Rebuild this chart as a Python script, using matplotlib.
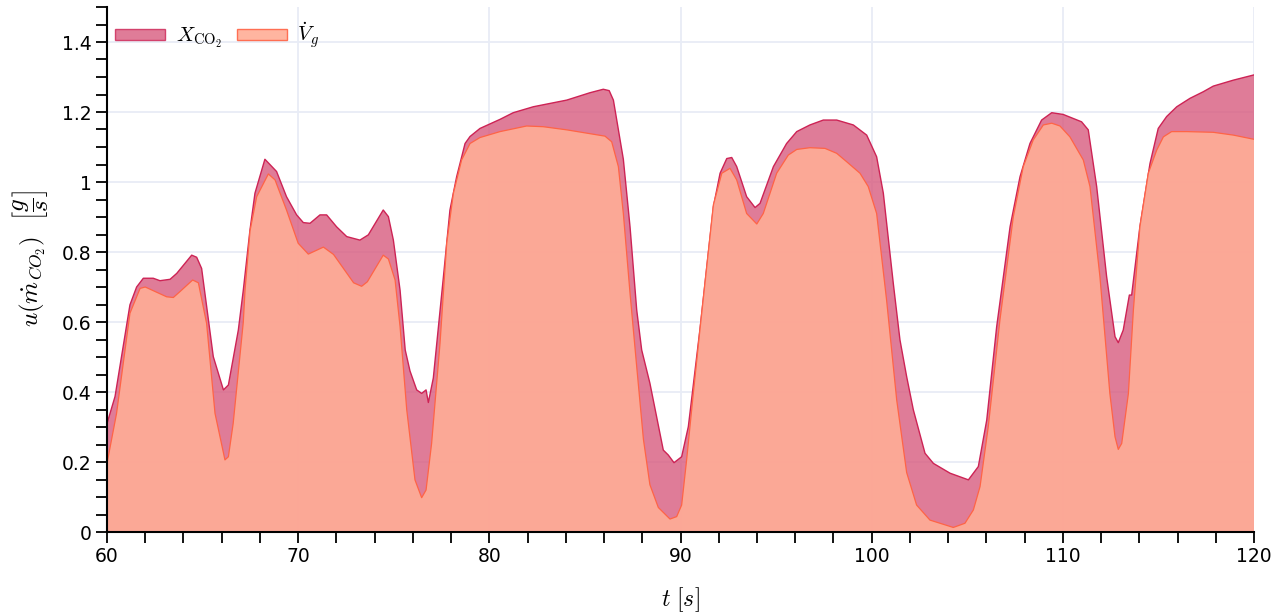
import matplotlib
matplotlib.use("Agg")
import matplotlib.pyplot as plt
from matplotlib.ticker import MultipleLocator, FuncFormatter
from matplotlib.patches import Patch

# ---- data ----
t_co2 = [60.0, 60.42, 61.2, 61.55, 61.9, 62.42, 62.77, 63.3, 63.65, 64.43, 64.69, 64.95,
         65.56, 66.09, 66.35, 66.87, 67.13, 67.48, 67.74, 68.26, 68.87, 69.39, 69.92, 70.27,
         70.62, 71.14, 71.49, 72.01, 72.54, 73.23, 73.67, 74.45, 74.72, 74.98, 75.33, 75.6,
         75.85, 76.2, 76.46, 76.69, 76.81, 77.07, 77.6, 77.94, 78.29, 78.73, 78.99, 79.51,
         80.56, 81.25, 82.3, 84.05, 85.26, 85.96, 86.27, 86.49, 87.01, 87.36, 87.71, 87.97,
         88.4, 89.1, 89.36, 89.66, 90.06, 90.41, 91.02, 91.72, 92.07, 92.42, 92.68, 92.94,
         93.46, 93.9, 94.16, 94.86, 95.55, 96.08, 96.77, 97.47, 98.17, 99.04, 99.74, 100.26,
         100.61, 101.13, 101.48, 101.83, 102.18, 102.79, 103.23, 104.1, 105.06, 105.58,
         106.02, 106.54, 107.24, 107.76, 108.28, 108.89, 109.42, 110.02, 110.98, 111.33,
         111.77, 112.29, 112.73, 112.9, 113.16, 113.48, 113.6, 114.03, 114.56, 114.99,
         115.43, 115.96, 116.65, 117.35, 117.87, 118.92, 120.0]
x_co2 = [0.31, 0.387, 0.649, 0.70, 0.725, 0.725, 0.718, 0.722, 0.739, 0.791, 0.785, 0.753,
         0.501, 0.406, 0.42, 0.577, 0.691, 0.863, 0.968, 1.065, 1.03, 0.958, 0.906, 0.884,
         0.882, 0.906, 0.906, 0.872, 0.844, 0.834, 0.849, 0.92, 0.901, 0.834, 0.691, 0.52,
         0.46, 0.406, 0.396, 0.406, 0.37, 0.44, 0.73, 0.92, 1.015, 1.11, 1.13, 1.153,
         1.179, 1.198, 1.215, 1.234, 1.255, 1.265, 1.261, 1.234, 1.065, 0.872, 0.634, 0.52,
         0.425, 0.234, 0.22, 0.198, 0.215, 0.301, 0.58, 0.929, 1.025, 1.067, 1.07, 1.044,
         0.958, 0.927, 0.939, 1.044, 1.11, 1.144, 1.163, 1.177, 1.177, 1.163, 1.134, 1.072,
         0.968, 0.711, 0.549, 0.444, 0.349, 0.225, 0.196, 0.168, 0.149, 0.187,
         0.32, 0.587, 0.872, 1.015, 1.11, 1.177, 1.198, 1.193, 1.172, 1.149,
         0.987, 0.73, 0.558, 0.541, 0.577, 0.677, 0.677, 0.872, 1.053, 1.153,
         1.187, 1.215, 1.239, 1.258, 1.274, 1.291, 1.306]

t_vg = [60.0, 60.5, 61.2, 61.73, 62.0, 63.12, 63.47, 63.82, 64.48, 64.78, 65.21, 65.65,
        66.17, 66.35, 66.6, 67.13, 67.22, 67.48, 67.83, 68.44, 68.79, 69.39, 70.0, 70.53,
        71.32, 71.85, 72.9, 73.32, 73.62, 74.45, 74.72, 75.07, 75.33, 75.68, 76.11, 76.46,
        76.69, 76.98, 77.42, 77.77, 78.12, 78.55, 78.99, 79.51, 80.56, 81.95, 82.82, 84.05,
        86.05, 86.4, 86.75, 87.01, 87.36, 87.71, 88.06, 88.4, 88.84, 89.45, 89.8, 90.06,
        90.32, 90.67, 91.02, 91.72, 92.16, 92.59, 92.94, 93.46, 93.99, 94.33, 95.03, 95.64,
        96.08, 96.77, 97.56, 98.17, 98.69, 99.39, 99.82, 100.26, 100.78, 101.31, 101.83,
        102.35, 103.05, 104.27, 104.88, 105.32, 105.67, 106.1, 106.71, 107.41, 107.93,
        108.45, 108.98, 109.42, 109.85, 110.37, 111.07, 111.42, 111.94, 112.46, 112.73,
        112.9, 113.08, 113.43, 113.69, 114.03, 114.47, 114.91, 115.26, 115.69, 116.48,
        117.87, 118.92, 120.0]
v_g = [0.196, 0.339, 0.625, 0.696, 0.70, 0.672, 0.67, 0.687, 0.72, 0.712, 0.596, 0.339,
       0.206, 0.215, 0.31, 0.6, 0.691, 0.86, 0.958, 1.023, 1.006, 0.92, 0.825, 0.794,
       0.814, 0.793, 0.712, 0.702, 0.715, 0.791, 0.78, 0.72, 0.587, 0.349, 0.149, 0.098,
       0.12, 0.253, 0.539, 0.825, 0.968, 1.063, 1.11, 1.127, 1.144, 1.16, 1.158, 1.149,
       1.131, 1.115, 1.044, 0.91, 0.682, 0.472, 0.265, 0.135, 0.07, 0.037, 0.044, 0.077,
       0.206, 0.396, 0.58, 0.935, 1.025, 1.039, 1.006, 0.91, 0.88, 0.91, 1.025, 1.077,
       1.093, 1.098, 1.096, 1.082, 1.058, 1.025, 0.987, 0.91, 0.663, 0.377, 0.17,
       0.077, 0.034, 0.013, 0.025, 0.063, 0.13, 0.301, 0.606, 0.901, 1.044,
       1.12, 1.163, 1.168, 1.16, 1.129, 1.063, 0.987, 0.73, 0.396, 0.272,
       0.236, 0.253, 0.396, 0.634, 0.872, 1.025, 1.091, 1.129, 1.144, 1.144,
       1.142, 1.134, 1.122]

series_labels = [r"$X_{\mathrm{CO_2}}$", r"$\dot{V}_g$"]
x_ticks_labeled = [60, 70, 80, 90, 100, 110, 120]

# ---- style ----
plt.rcParams["mathtext.fontset"] = "cm"
plt.rcParams["font.family"] = ["DejaVu Sans"]

W, H = 1287, 613
fig = plt.figure(figsize=(W / 100, H / 100), dpi=100)
ax = fig.add_axes([107 / W, 1 - 532 / H, (1254 - 107) / W, (532 - 7) / H])

pink_fill = (216 / 255, 91 / 255, 126 / 255)
pink_line = (205 / 255, 35 / 255, 85 / 255)
salmon_fill = (255 / 255, 173 / 255, 150 / 255)
salmon_line = (255 / 255, 100 / 255, 70 / 255)

ax.fill_between(t_co2, 0, x_co2, facecolor=pink_fill, alpha=0.8, linewidth=0, zorder=2)
ax.plot(t_co2, x_co2, color=pink_line, lw=1.0, zorder=3)
ax.fill_between(t_vg, 0, v_g, facecolor=salmon_fill, alpha=0.9, linewidth=0, zorder=4)
ax.plot(t_vg, v_g, color=salmon_line, lw=0.9, zorder=5)

ax.set_xlim(60, 120)
ax.set_ylim(0, 1.5)

ax.set_axisbelow(True)
ax.xaxis.set_minor_locator(MultipleLocator(2))
ax.yaxis.set_major_locator(MultipleLocator(0.2))
ax.yaxis.set_minor_locator(MultipleLocator(0.05))
ax.set_xticks(x_ticks_labeled)
ax.yaxis.set_major_formatter(FuncFormatter(lambda v, p: f"{v:g}"))
ax.grid(True, which="major", color="#E8ECF6", lw=1.3)

for s in ["top", "right"]:
    ax.spines[s].set_visible(False)
for s in ["left", "bottom"]:
    ax.spines[s].set_color("black")
    ax.spines[s].set_linewidth(1.5)
    ax.spines[s].set_zorder(6)

ax.tick_params(axis="both", which="both", direction="out", length=8, width=1.3, color="black")
ax.tick_params(axis="both", which="major", labelsize=13.5, pad=3)

ax.set_xlabel(r"$t\ [s]$", fontsize=17, labelpad=14)
ax.set_ylabel(r"$u(\dot{m}_{CO_2})\ \ \left[\dfrac{g}{s}\right]$", fontsize=18)
ax.yaxis.set_label_coords(-0.05, 0.52)

handles = [Patch(facecolor=pink_fill, edgecolor=pink_line, alpha=0.8, lw=1),
           Patch(facecolor=salmon_fill, edgecolor=salmon_line, alpha=0.9, lw=1)]
leg = ax.legend(handles, series_labels, loc="upper left", ncol=2, frameon=False,
                fontsize=15, handlelength=2.4, handleheight=0.45, handletextpad=0.5,
                columnspacing=0.7, bbox_to_anchor=(0.0, 0.99), borderaxespad=0.0)

fig.savefig("out.png", dpi=100, facecolor="white")
